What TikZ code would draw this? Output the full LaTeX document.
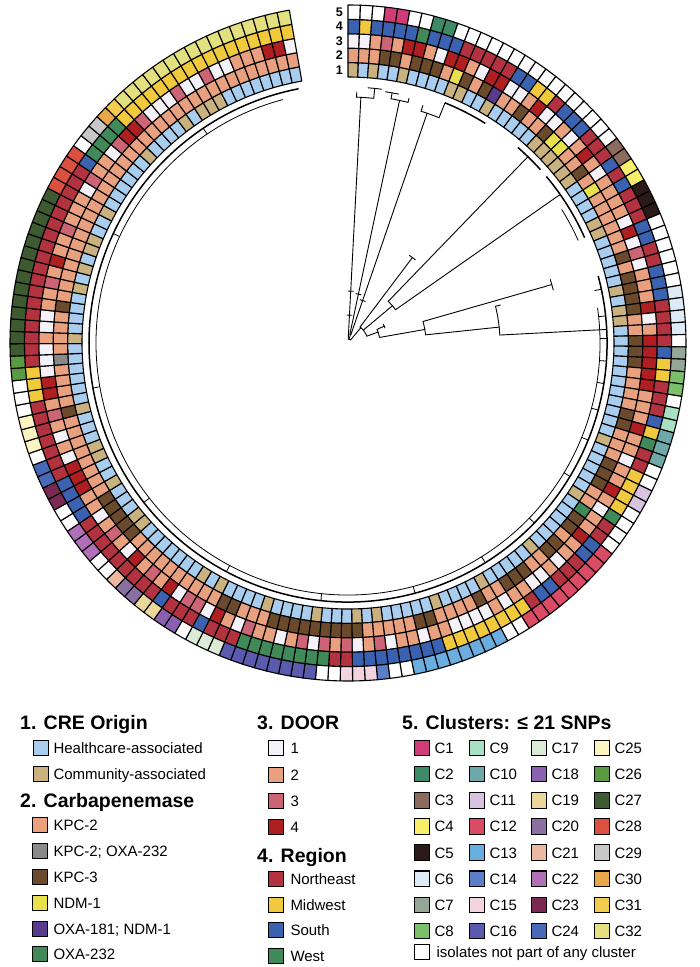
\documentclass[tikz,border=0pt]{standalone}
\usepackage{fontspec}
\setmainfont{Liberation Sans}
\usetikzlibrary{calc,positioning}

% ring colours
\definecolor{hc}{HTML}{A9CDEE}
\definecolor{ca}{HTML}{C9B27F}
\definecolor{kb}{HTML}{E9A07E}
\definecolor{kg}{HTML}{8A8A8A}
\definecolor{kc}{HTML}{6B4A2C}
\definecolor{nd}{HTML}{E9E14B}
\definecolor{ox}{HTML}{5A3C8E}
\definecolor{ot}{HTML}{3F8A58}
\definecolor{da}{HTML}{F4F2F8}
\definecolor{db}{HTML}{E9A07E}
\definecolor{dc}{HTML}{CD6475}
\definecolor{dd}{HTML}{AF1F22}
\definecolor{ne}{HTML}{B2323F}
\definecolor{mw}{HTML}{F1C93C}
\definecolor{so}{HTML}{3B62B0}
\definecolor{we}{HTML}{3F8A58}
\definecolor{cw}{HTML}{FFFFFF}
% clusters
\definecolor{c1}{HTML}{D03C78}
\definecolor{c2}{HTML}{3E8A67}
\definecolor{c3}{HTML}{8C6A5E}
\definecolor{c4}{HTML}{F7EE6A}
\definecolor{c5}{HTML}{2A1A1A}
\definecolor{c6}{HTML}{DDEBF7}
\definecolor{c7}{HTML}{93A697}
\definecolor{c8}{HTML}{7BBF6A}
\definecolor{c9}{HTML}{A8E0C4}
\definecolor{c10}{HTML}{6FA8A8}
\definecolor{c11}{HTML}{D8C4E0}
\definecolor{c12}{HTML}{DC4B66}
\definecolor{c13}{HTML}{6AAEE0}
\definecolor{c14}{HTML}{5A7FC8}
\definecolor{c15}{HTML}{F2D4E0}
\definecolor{c16}{HTML}{5A5AAE}
\definecolor{c17}{HTML}{DCEBD8}
\definecolor{c18}{HTML}{8A60B0}
\definecolor{c19}{HTML}{EBD79A}
\definecolor{c20}{HTML}{8A70A0}
\definecolor{c21}{HTML}{EDB8A0}
\definecolor{c22}{HTML}{B070B8}
\definecolor{c23}{HTML}{7A2A50}
\definecolor{c24}{HTML}{4868B8}
\definecolor{c25}{HTML}{FBF4C0}
\definecolor{c26}{HTML}{5A9A40}
\definecolor{c27}{HTML}{3E5A30}
\definecolor{c28}{HTML}{DC5040}
\definecolor{c29}{HTML}{C8C8C8}
\definecolor{c30}{HTML}{E8A84A}
\definecolor{c31}{HTML}{F2CC50}
\definecolor{c32}{HTML}{E3E080}

\newcommand\ringin{266}
\newcommand\ringw{14.4}
\newcommand\cellang{2.108434}

\newcommand\ringrow[2]{%
  \pgfmathsetmacro\radA{\ringin+(#1-1)*\ringw}%
  \pgfmathsetmacro\radB{\radA+\ringw}%
  \foreach \col [count=\i] in {#2} {%
    \pgfmathsetmacro\angA{(\i-1)*\cellang-90}%
    \pgfmathsetmacro\angB{\i*\cellang-90}%
    \draw[cell, fill=\col] (\angA:\radA) arc[start angle=\angA, end angle=\angB, radius=\radA]
      -- (\angB:\radB) arc[start angle=\angB, end angle=\angA, radius=\radB] -- cycle;
  }%
}

\tikzset{
  cell/.style={draw=black, line width=1.1pt, line join=round},
  twig/.style={line width=0.9pt, line cap=round},
  tipbar/.style={line width=1.5pt},
  thinbar/.style={line width=0.8pt},
  sw/.style={draw=black, line width=1.1pt, minimum size=15.5pt, inner sep=0pt},
  head/.style={font=\bfseries\fontsize{19.5}{22}\selectfont, anchor=west, inner sep=0pt, text height=14pt, text depth=0pt},
  lab/.style={font=\fontsize{15}{18}\selectfont, anchor=west, inner sep=0pt, text height=10.8pt, text depth=0pt},
  rl/.style={font=\bfseries\fontsize{12.5}{14}\selectfont, anchor=east, inner sep=0pt}
}

\begin{document}
\begin{tikzpicture}[x=1pt,y=-1pt]
\useasboundingbox (0,0) rectangle (700,967);

% heat map rings
\begin{scope}[shift={(348,343)}]
\ringrow{1}{ca,hc,ca,hc,hc,ca,hc,hc,hc,hc,
ca,ca,hc,hc,ca,hc,hc,hc,hc,hc,
ca,ca,ca,ca,ca,ca,hc,hc,hc,hc,
ca,ca,hc,hc,hc,hc,hc,ca,hc,ca,
ca,hc,hc,hc,hc,hc,hc,hc,hc,hc,
hc,hc,ca,hc,hc,hc,hc,hc,ca,hc,
hc,hc,hc,hc,hc,ca,hc,hc,hc,hc,
hc,ca,hc,hc,hc,hc,ca,hc,hc,hc,
hc,hc,ca,hc,ca,hc,hc,hc,ca,hc,
hc,hc,hc,ca,hc,hc,hc,hc,ca,hc,
ca,hc,hc,hc,hc,hc,hc,hc,ca,ca,
hc,hc,hc,ca,hc,hc,ca,ca,hc,hc,
hc,ca,hc,hc,hc,hc,hc,hc,ca,hc,
hc,hc,hc,ca,hc,ca,hc,ca,ca,hc,
hc,ca,hc,hc,hc,hc,hc,hc,ca,hc,
hc,hc,hc,ca,hc,ca,ca,ca,hc,hc,
hc,hc,hc,hc,hc,hc}
\ringrow{2}{kb,kb,kb,kc,kc,kb,kc,kc,kc,kb,
nd,kc,kb,kc,ox,kb,kb,kc,kb,kb,
kc,nd,nd,kb,kb,kc,kb,nd,kb,kb,
kb,kb,kb,kb,kc,kb,kc,kc,kc,kc,
kb,kb,kc,kc,kc,kb,kb,kb,kb,kc,
kc,kb,kb,kb,kc,kc,kc,kb,kb,ot,
kc,kc,kb,kc,kc,kb,kb,kc,kc,kc,
kb,kb,kc,kb,kb,kb,kb,kc,kc,kb,
kb,kb,kb,kb,kc,kc,kc,kc,kc,kc,
kc,kc,kc,kb,kb,kb,kc,kc,kb,kb,
kb,kb,kb,kb,kb,kb,kb,kb,kc,kc,
kc,kc,kc,kb,kb,kb,kb,kb,kb,kb,
kb,kc,kb,kb,kb,kb,kg,kb,kb,kb,
kb,kc,kb,kb,kb,kb,kb,kb,kb,kb,
kb,kb,kb,kb,kb,kb,kb,kb,kb,kb,
kb,kb,kb,kb,kb,kb,kb,kb,kb,kb,
kb,kb,kb,kb,kb,kb}
\ringrow{3}{da,da,db,dc,db,dd,dd,db,da,dd,
dd,db,da,dd,dd,da,da,db,dd,da,
da,db,da,db,dd,db,da,db,db,db,
db,da,dd,da,dc,da,db,db,db,dd,
da,db,dd,dd,dd,dd,dd,db,db,db,
dd,db,db,da,db,db,dd,db,da,db,
db,dd,db,db,da,db,da,da,db,db,
da,db,da,da,da,da,db,db,da,db,
db,da,dc,db,da,dc,db,dc,da,dc,
db,da,db,db,dc,da,db,dd,da,dc,
dc,da,dd,db,dc,db,dd,da,db,dc,
db,da,db,db,dd,dd,dd,da,db,da,
db,dc,db,dd,dd,da,da,da,db,da,
da,db,db,dc,db,dd,db,db,dc,db,
db,db,da,dc,db,db,da,dc,dd,dd,
dc,da,da,da,dc,da,da,dc,da,da,
db,db,db,dd,dd,da}
\ringrow{4}{so,mw,so,so,so,so,we,so,so,so,
ne,ne,ne,ne,ne,so,so,mw,mw,ne,
so,so,so,ne,ne,ne,so,ne,so,ne,
ne,ne,so,so,ne,ne,so,so,so,ne,
ne,ne,ne,so,mw,mw,ne,ne,ne,so,
mw,we,ne,ne,mw,mw,mw,mw,we,ne,
ne,so,so,ne,ne,ne,so,so,ne,mw,
mw,mw,mw,mw,mw,mw,mw,so,so,so,
so,so,so,so,so,ne,ne,we,we,we,
we,we,we,we,we,ne,ne,ne,so,ne,
ne,ne,so,ne,ne,ne,ne,ne,ne,ne,
ne,ne,so,so,so,so,ne,ne,ne,ne,
ne,ne,ne,mw,mw,mw,ne,ne,ne,ne,
ne,ne,ne,ne,ne,ne,ne,ne,ne,ne,
ne,ne,ne,ne,so,we,we,we,we,mw,
mw,mw,mw,mw,mw,mw,mw,mw,mw,mw,
mw,mw,mw,mw,mw,mw}
\ringrow{5}{cw,cw,cw,c1,c1,cw,cw,c2,c2,cw,
cw,cw,cw,cw,cw,cw,cw,cw,cw,cw,
cw,cw,cw,cw,cw,c3,c3,c4,c4,c5,
c5,c5,cw,cw,cw,cw,cw,cw,c6,c6,
c6,c6,cw,c7,c7,c8,c8,cw,c9,c9,
c10,c10,c10,cw,cw,c11,c11,cw,cw,cw,
cw,c12,c12,c12,c12,c12,c12,c12,c12,c12,
cw,cw,c13,c13,c13,c13,c13,c13,c13,c13,
cw,cw,c14,c15,c15,c15,cw,cw,c16,c16,
c16,c16,c16,c16,c16,c16,c17,c17,c17,cw,
c18,c18,c19,c19,c20,c20,c21,cw,cw,c22,
c22,c22,cw,cw,c23,c23,c24,c24,cw,c25,
c25,c25,cw,cw,cw,c26,c26,c27,c27,c27,
c27,c27,c27,c27,c27,c27,c27,c27,c27,c27,
c27,c28,c28,c28,c28,cw,c29,c29,c30,c31,
c32,c32,c32,c32,c32,c32,c32,c32,c32,c32,
c32,c32,c32,c32,c32,c32}

% tip bars next to the rings
\draw[tipbar] (-68:259) arc[start angle=-68, end angle=-58, radius=259];
\draw[tipbar] (-49:259) arc[start angle=-49, end angle=-42, radius=259];
\draw[tipbar] (-40:259) arc[start angle=-40, end angle=-24, radius=259];
\draw[tipbar] (-15:259) arc[start angle=-15, end angle=259, radius=259];
\draw[thinbar] (-32:252) arc[start angle=-32, end angle=-24, radius=252];
\draw[thinbar] (-8:252) arc[start angle=-8, end angle=255, radius=252];
\foreach \t in {-12,-6,-1,4,9,15,22,31,44,58,75,96,118,142,170,205,236} {
  \draw[thinbar] (\t:252) -- (\t:259);
}

% tree
\begin{scope}[twig]
\draw (-87:4) arc[start angle=-87, end angle=-50, radius=4];
\draw (-87:4) -- (-87:246);
\draw (-92:28) arc[start angle=-92, end angle=-82, radius=28];
\draw (-90:52) arc[start angle=-90, end angle=-84, radius=52];
\draw (-88:246) arc[start angle=-88, end angle=-84, radius=246];
\draw (-88:246) -- (-88:251);
\draw (-84:246) -- (-84:256);
\draw (-85.5:256) arc[start angle=-85.5, end angle=-82.5, radius=256];

\draw (-74:4) -- (-74:9);
\draw (-78:9) arc[start angle=-78, end angle=-71, radius=9];
\draw (-78:9) -- (-78:248);
\draw (-81:50) arc[start angle=-81, end angle=-75, radius=50];
\draw (-80:248) arc[start angle=-80, end angle=-76, radius=248];
\draw (-80:248) -- (-80:254);
\draw (-81.5:254) arc[start angle=-81.5, end angle=-78.5, radius=254];
\draw (-76:248) -- (-76:252);

\draw (-71:9) -- (-71:243);
\draw (-74.5:45) arc[start angle=-74.5, end angle=-67.5, radius=45];
\draw (-72.5:243) arc[start angle=-72.5, end angle=-68, radius=243];
\draw (-72.5:243) -- (-72.5:249);
\draw (-68:243) -- (-68:259);

\draw (-50:4) -- (-50:20);
\draw (-53:20) arc[start angle=-53, end angle=-20, radius=20];
\draw (-53:20) -- (-53:107);
\draw (-55:107) arc[start angle=-55, end angle=-51, radius=107];
\draw (-40:20) -- (-40:58);
\draw (-46:58) arc[start angle=-46, end angle=-35, radius=58];
\draw (-46:58) -- (-46:259);
\draw (-35:58) -- (-35:259);

\draw (-20:20) -- (-20:32);
\draw (-25:32) arc[start angle=-25, end angle=-10, radius=32];
\draw (-25:32) -- (-25:40);
\draw (-28:40) arc[start angle=-28, end angle=-22, radius=40];
\draw (-10:32) -- (-10:78);
\draw (-16:78) arc[start angle=-16, end angle=-6, radius=78];
\draw (-16:78) -- (-16:212);
\draw (-17.5:212) arc[start angle=-17.5, end angle=-14.5, radius=212];
\draw (-6:78) -- (-6:152);
\draw (-14:152) arc[start angle=-14, end angle=-3, radius=152];
\draw (-14:152) -- (-14:157);
\draw (-3:152) -- (-3:259);
\end{scope}
\end{scope}

% ring numbers
\foreach \k in {1,...,5} {
  \pgfmathsetmacro\yy{343-\ringin-\ringw*(\k-0.5)}
  \node[rl] (r\k) at (343,\yy) {\k};
}

% legend, column 1
\node[head] (t1) at (20,722) {1. CRE Origin};
\node[sw, fill=hc] (s11) at (41,748) {};
\node[lab, right=4pt of s11] (l11) {Healthcare-associated};
\node[sw, fill=ca] (s12) at (41,774) {};
\node[lab, right=4pt of s12] (l12) {Community-associated};

\node[head] (t2) at (20,800) {2. Carbapenemase};
\node[sw, fill=kb] (s21) at (40,825) {};
\node[lab, right=5pt of s21] (l21) {KPC-2};
\node[sw, fill=kg] (s22) at (40,851) {};
\node[lab, right=5pt of s22] (l22) {KPC-2; OXA-232};
\node[sw, fill=kc] (s23) at (40,877) {};
\node[lab, right=5pt of s23] (l23) {KPC-3};
\node[sw, fill=nd] (s24) at (40,903) {};
\node[lab, right=5pt of s24] (l24) {NDM-1};
\node[sw, fill=ox] (s25) at (40,929) {};
\node[lab, right=5pt of s25] (l25) {OXA-181; NDM-1};
\node[sw, fill=ot] (s26) at (40,954) {};
\node[lab, right=5pt of s26] (l26) {OXA-232};

% legend, column 2
\node[head] (t3) at (257,722) {3. DOOR};
\node[sw, fill=da] (s31) at (276,748) {};
\node[lab, right=6pt of s31] (l31) {1};
\node[sw, fill=db] (s32) at (276,775) {};
\node[lab, right=6pt of s32] (l32) {2};
\node[sw, fill=dc] (s33) at (276,801) {};
\node[lab, right=6pt of s33] (l33) {3};
\node[sw, fill=dd] (s34) at (276,827) {};
\node[lab, right=6pt of s34] (l34) {4};

\node[head] (t4) at (257,855) {4. Region};
\node[sw, fill=ne] (s41) at (276,879) {};
\node[lab, right=6pt of s41] (l41) {Northeast};
\node[sw, fill=mw] (s42) at (276,905) {};
\node[lab, right=6pt of s42] (l42) {Midwest};
\node[sw, fill=so] (s43) at (276,930) {};
\node[lab, right=6pt of s43] (l43) {South};
\node[sw, fill=we] (s44) at (276,956) {};
\node[lab, right=6pt of s44] (l44) {West};

% legend, column 3
\node[head] (t5) at (402,722) {5. Clusters: ≤ 21 SNPs};
\foreach \n [count=\k from 0] in {1,...,32} {
  \pgfmathtruncatemacro\cx{int(\k/8)}
  \pgfmathtruncatemacro\ry{mod(\k,8)}
  \pgfmathsetmacro\xx{{422,477,539,602}[\cx]}
  \pgfmathsetmacro\yy{748+26.15*\ry}
  \node[sw, fill=c\n] (k\n) at (\xx,\yy) {};
  \node[lab, right=4pt of k\n] (m\n) {C\n};
}
\node[sw, fill=cw] (k0) at (422,952) {};
\node[lab, right=6pt of k0] (m0) {isolates not part of any cluster};

\end{tikzpicture}
\end{document}
